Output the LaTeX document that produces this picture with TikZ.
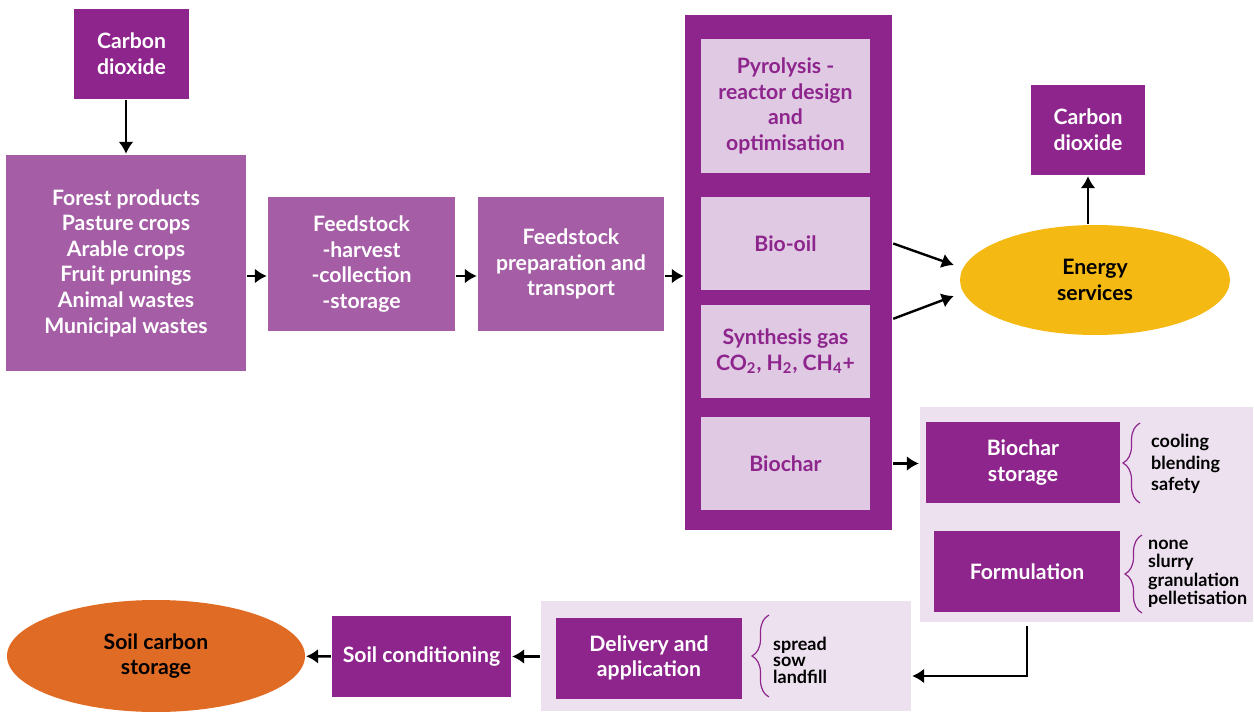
\documentclass[tikz,border=0pt]{standalone}
\usepackage{fontspec}
\setmainfont{Lato}
\usetikzlibrary{shapes.geometric,decorations.pathreplacing,calc,arrows.meta}
\definecolor{dpurple}{HTML}{8E258D}
\definecolor{mpurple}{HTML}{A55EA6}
\definecolor{lpurple}{HTML}{DFC9E3}
\definecolor{ppurple}{HTML}{EDE1EF}
\definecolor{eyellow}{HTML}{F5B914}
\definecolor{sorange}{HTML}{E06B25}
\tikzset{
  wh/.style 2 args={minimum width=#1*0.5pt,minimum height=#2*0.5pt,inner sep=0pt},
  boxfont/.style={align=center,font=\fontsize{10.6}{12.8}\selectfont\bfseries},
  dbox/.style={fill=dpurple,text=white,boxfont},
  mbox/.style={fill=mpurple,text=white,boxfont},
  lbox/.style={fill=lpurple,text=dpurple,boxfont},
  panel/.style={fill=ppurple},
  items/.style={align=left,anchor=west,inner sep=0pt},
  curly/.style={draw=dpurple,line width=0.6pt,decorate,decoration={brace,amplitude=8.5pt}}
}
\begin{document}
\begin{tikzpicture}[>={Latex[length=6pt,width=7.5pt]},x=0.5pt,y=-0.5pt,line width=1.2pt]
	\useasboundingbox (0,0) rectangle (1254,712);
	% left chain
	\node[dbox,wh={115}{90}] (co2a) at (131.5,54) {Carbon\\dioxide};
	\node[mbox,wh={240}{216}] (sources) at (126,263) {Forest products\\Pasture crops\\Arable crops\\Fruit prunings\\Animal wastes\\Municipal wastes};
	\node[mbox,wh={187}{134}] (harvest) at (361.5,264) {Feedstock\\-harvest\\-collection\\-storage};
	\node[mbox,wh={186}{134}] (prep) at (571,264) {Feedstock\\preparation and\\transport};
	\coordinate (mid) at (0,276);
	% reactor
	\node[fill=dpurple,wh={207}{515}] (reactor) at (788.5,272.5) {};
	\node[lbox,wh={169}{134}] (pyro) at (785.5,106) {Pyrolysis -\\reactor design\\and\\optimisation};
	\node[lbox,wh={169}{93}] (bio) at (785.5,243.5) {Bio-oil};
	\node[lbox,wh={169}{93}] (syn) at (785.5,351.5) {Synthesis gas\\CO\textsubscript{2}, H\textsubscript{2}, CH\textsubscript{4}+};
	\node[lbox,wh={169}{93}] (char) at (785.5,463.5) {Biochar};
	% energy
	\node[ellipse,fill=eyellow,wh={270}{110},boxfont] (energy) at (1095,280) {Energy\\services};
	\node[dbox,wh={114}{90}] (co2b) at (1088,130) {Carbon\\dioxide};
	% biochar handling
	\node[panel,wh={333}{215}] (panelA) at (1086.5,514.5) {};
	\node[dbox,wh={194}{81}] (store) at (1023,462.5) {Biochar\\storage};
	\node[dbox,wh={186}{81}] (form) at (1027,571.5) {Formulation};
	\node[items,font=\fontsize{9}{10.8}\selectfont\bfseries] (storelist) at (1150,464) {cooling\\blending\\safety};
	\node[items,font=\fontsize{9}{9.2}\selectfont\bfseries] (formlist) at (1147,574) {none\\slurry\\granulation\\pelletisation};
	\draw[curly] (1140,503)--(1140,423);
	\draw[curly] (1142,613)--(1142,535);
	% bottom chain
	\node[panel,wh={370}{110}] (panelB) at (726,656) {};
	\node[dbox,wh={186}{81}] (deliv) at (649,658) {Delivery and\\application};
	\node[items,font=\fontsize{9}{8.2}\selectfont\bfseries] (delivlist) at (772,660) {spread\\sow\\landfill};
	\draw[curly] (769,697)--(769,615);
	\node[dbox,wh={179}{81}] (soil) at (421.5,656.5) {Soil conditioning};
	\node[ellipse,fill=sorange,wh={298}{112},boxfont] (soilst) at (156,656) {Soil carbon\\storage};
	% arrows
	\draw[->] (sources|-co2a.south)--(sources);
	\draw[->] (sources.east|-mid)--(harvest.west|-mid);
	\draw[->] (harvest.east|-mid)--(prep.west|-mid);
	\draw[->] (prep.east|-mid)--(reactor.west|-mid);
	\draw[->] (bio-|reactor.east)--($(energy.west)+(-5,-15)$);
	\draw[->] ($(syn.north-|reactor.east)+(0,15)$)--($(energy.west)+(-5,16)$);
	\draw[->] (co2b|-energy.north)--(co2b);
	\draw[->] (char-|reactor.east)--(char-|panelA.west);
	\draw[->] ($(form.south|-panelA.south)+(0,3)$)|-($(panelB.east)+(0,20)$);
	\draw[->] (panelB.west|-soil)--(soil);
	\draw[->] (soil)--(soilst);
\end{tikzpicture}
\end{document}
